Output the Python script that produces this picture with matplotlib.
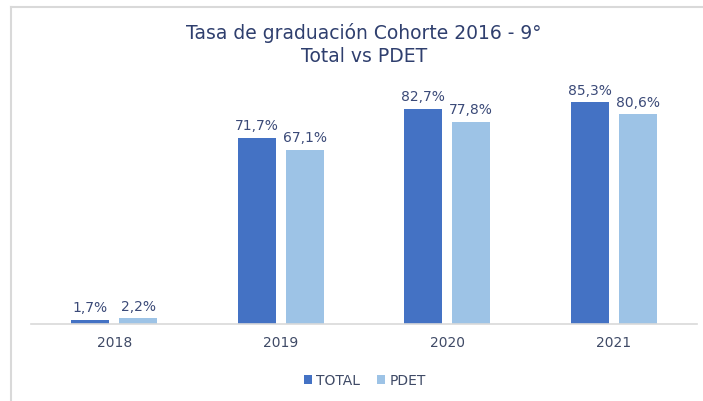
import numpy as np
import matplotlib.pyplot as plt
from matplotlib.lines import Line2D

years = ['2018', '2019', '2020', '2021']
total = [1.7, 71.7, 82.7, 85.3]
pdet = [2.2, 67.1, 77.8, 80.6]

c_total = '#4472C4'
c_pdet = '#9DC3E6'
txt = '#3B4A78'

plt.rcParams['font.family'] = ['DejaVu Sans']

fig = plt.figure(figsize=(7.03, 4.02), dpi=100)
ax = fig.add_axes([31/703, 1-325/402, 666/703, 260/402])

x = np.arange(len(years))
w = 0.228
off = 0.144
b1 = ax.bar(x - off, total, w, color=c_total, label='TOTAL')
b2 = ax.bar(x + off, pdet, w, color=c_pdet, label='PDET')

for bars, vals in ((b1, total), (b2, pdet)):
    for r, v in zip(bars, vals):
        ax.annotate(f'{v:.1f}%'.replace('.', ','), (r.get_x() + r.get_width()/2, v),
                    xytext=(0, 4), textcoords='offset points', ha='center', va='bottom',
                    fontsize=10, color=txt)

ax.set_xlim(-0.5, 3.5)
ax.set_ylim(0, 100)
ax.set_xticks(x)
ax.set_xticklabels(years, fontsize=10, color='#3F4A66')
ax.tick_params(length=0, pad=8)
ax.set_yticks([])
for s in ['top', 'right', 'left']:
    ax.spines[s].set_visible(False)
ax.spines['bottom'].set_color('#D9D9D9')
ax.spines['bottom'].set_linewidth(1.2)

fig.text(364/703, 1-33/402, 'Tasa de graduación Cohorte 2016 - 9°', ha='center', va='center',
         fontsize=13.5, color='#2F3F6E')
fig.text(364/703, 1-57/402, 'Total vs PDET', ha='center', va='center',
         fontsize=13.5, color='#2F3F6E')

fig.legend(handles=[b1, b2], loc='center', bbox_to_anchor=(365/703, 1-381/402), ncol=2,
           frameon=False, fontsize=10, handlelength=0.6, handleheight=0.6,
           handletextpad=0.3, columnspacing=1.2, labelcolor='#3F4A66')

# frame lines (top and left)
fig.add_artist(Line2D([11/703, 11/703], [0, 1-8/402], transform=fig.transFigure, color='#D9D9D9', lw=1.5))
fig.add_artist(Line2D([11/703, 1], [1-8/402, 1-8/402], transform=fig.transFigure, color='#D9D9D9', lw=1.5))

fig.savefig('out.png', dpi=100)
